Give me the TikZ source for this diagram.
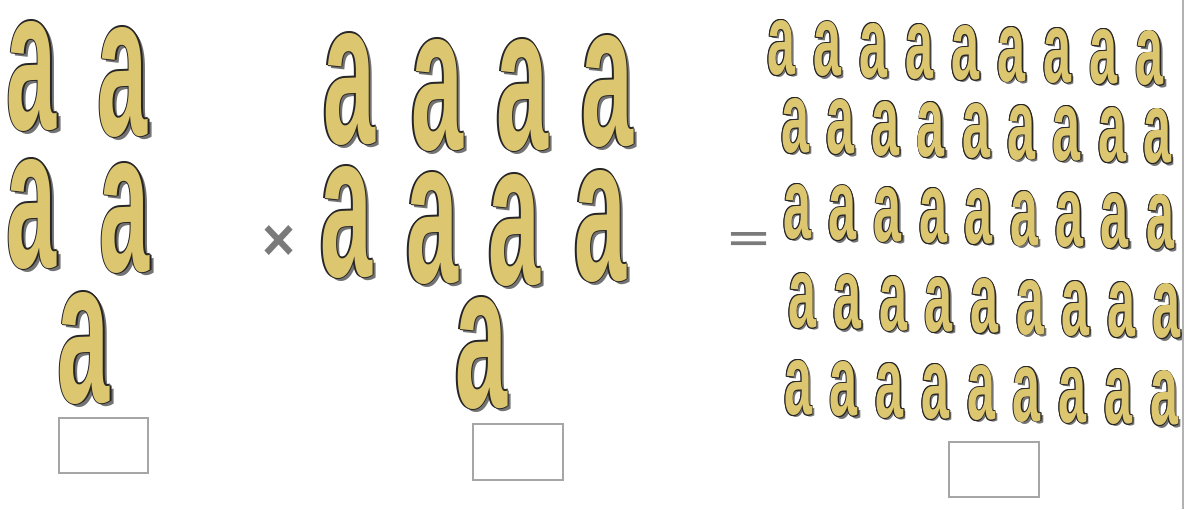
\documentclass[tikz,border=0pt]{standalone}
\usepackage{fontspec}
\newfontfamily\afont{Liberation Sans}
\definecolor{afillc}{RGB}{221,198,112}
\tikzset{
  abox/.style={inner sep=0pt, outer sep=0pt, anchor=center},
  ashadow/.style={abox, text=black!55},
  aout/.style={abox, text=black!85},
  afill/.style={abox, text=afillc},
  ansbox/.style={draw=black!35, line width=0.75pt, fill=white},
  opsign/.style={inner sep=0pt, outer sep=0pt, text=black!52},
}
\newcommand\glyphA[2]{\resizebox{#1}{#2}{\afont\bfseries a}}
% name, x, y, width, height, outline offset
\newcommand\letA[6]{%
  \node[ashadow, xshift=2.5*#6, yshift=-2.5*#6] (#1s) at (#2,#3) {\glyphA{#4}{#5}};
  \foreach \dx/\dy [count=\k] in {1/0,-1/0,0/1,0/-1,0.7/0.7,0.7/-0.7,-0.7/0.7,-0.7/-0.7}
    \node[aout, xshift=\dx*#6, yshift=\dy*#6] (#1o\k) at (#2,#3) {\glyphA{#4}{#5}};
  \node[afill] (#1) at (#2,#3) {\glyphA{#4}{#5}};
}
\begin{document}
\begin{tikzpicture}[x=0.5pt,y=-0.5pt]
\useasboundingbox (0,0) rectangle (1193,509);
% left group
\letA{L1}{32}{76}{25pt}{54pt}{0.65pt}
\letA{L2}{123}{82}{25pt}{54pt}{0.65pt}
\letA{L3}{32}{214}{25pt}{54pt}{0.65pt}
\letA{L4}{125}{218}{25pt}{54pt}{0.65pt}
\letA{L5}{84}{348}{26pt}{55pt}{0.65pt}
\node[ansbox, minimum width=44.5pt, minimum height=27.5pt] (B1) at (103.5,445.5) {};
% times
\node[opsign] (times) at (278.5,242.5) {\resizebox{16.5pt}{17.5pt}{\afont\bfseries ×}};
% middle group
\letA{M1}{349}{89}{26pt}{55pt}{0.65pt}
\letA{M2}{437}{95}{26pt}{55pt}{0.65pt}
\letA{M3}{522}{95}{26pt}{55pt}{0.65pt}
\letA{M4}{607}{91}{26pt}{55pt}{0.65pt}
\letA{M5}{346}{222}{26pt}{55pt}{0.65pt}
\letA{M6}{432}{228}{26pt}{55pt}{0.65pt}
\letA{M7}{514}{230}{26pt}{55pt}{0.65pt}
\letA{M8}{600}{226}{26pt}{55pt}{0.65pt}
\letA{M9}{481}{353}{26pt}{55pt}{0.65pt}
\node[ansbox, minimum width=45pt, minimum height=28pt] (B2) at (518,452) {};
% equals
\node[opsign] (eq) at (748.5,241) {\resizebox{20.5pt}{9pt}{\afont\bfseries =}};
% right group
\foreach \r/\xs/\p/\yy in {1/781/46.1/48, 2/795/45.3/126, 3/797/45.4/212, 4/802/45.6/301, 5/798/45.75/388}{
  \foreach \c in {0,...,8}{
    \letA{R\r c\c}{\xs+\c*\p}{\yy+\c*1.3}{14pt}{27pt}{0.45pt}
  }
}
\node[ansbox, minimum width=45pt, minimum height=27.5pt] (B3) at (994,469.5) {};
% right edge line
\coordinate (et) at (1183,0);
\coordinate (eb) at (1183,509);
\draw[draw=black!30, line width=0.8pt] (et) -- (eb);
\end{tikzpicture}
\end{document}
